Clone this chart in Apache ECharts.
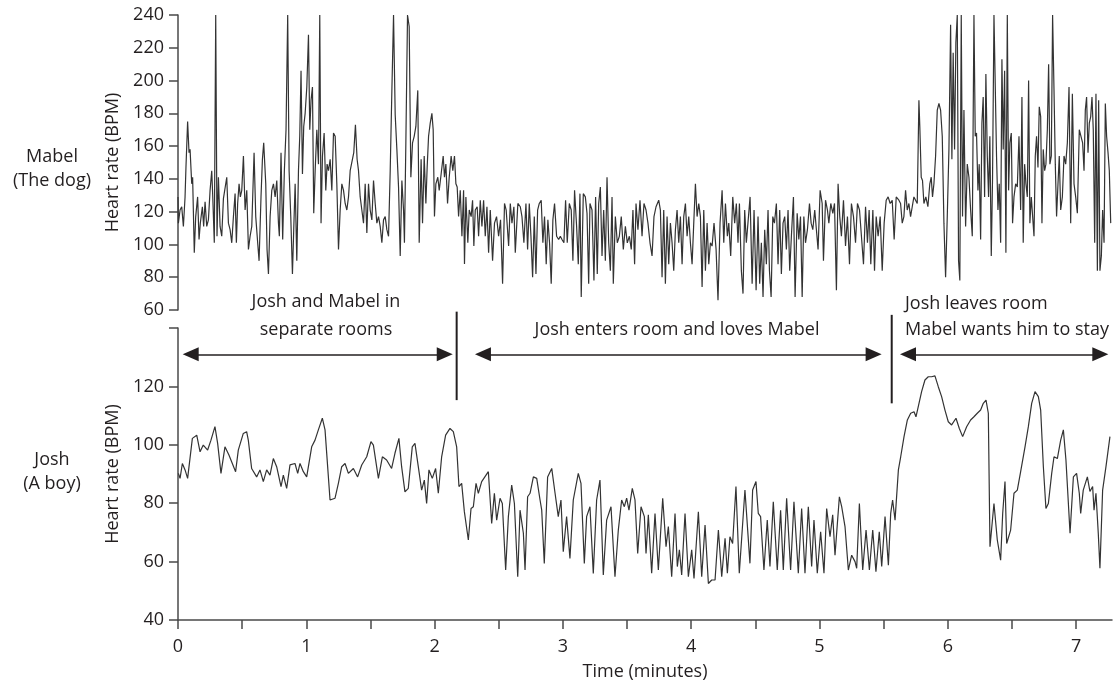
<!DOCTYPE html>
<html>
<head>
<meta charset="utf-8">
<script src="https://cdn.jsdelivr.net/npm/echarts/dist/echarts.min.js"></script>
<style>
html,body{margin:0;padding:0;background:#fff;}
#chart{width:1117px;height:682px;}
</style>
</head>
<body>
<div id="chart"></div>
<script>
// ---------- data (time in minutes, heart rate in BPM) ----------
const xTickValues = [0,0.5,1,1.5,2,2.5,3,3.5,4,4.5,5,5.5,6,6.5,7];
const xLabelValues = [0,1,2,3,4,5,6,7];
const joshLabelValues = [40,60,80,100,120];

const mabelHR = [
[0,129],[0.003,113],[0.016,121],[0.029,123],[0.042,111],[0.055,129],[0.062,147],[0.075,175],[0.086,156],[0.094,158],
[0.107,137],[0.114,141],[0.127,95],[0.138,117],[0.153,129],[0.164,103],[0.174,113],[0.190,123],[0.200,111],[0.211,126],
[0.224,111],[0.237,115],[0.250,133],[0.263,145],[0.270,131],[0.283,101],[0.294,240],[0.304,105],[0.315,141],[0.328,111],
[0.341,105],[0.354,128],[0.367,127],[0.380,141],[0.393,113],[0.406,109],[0.419,101],[0.432,117],[0.445,131],[0.455,101],
[0.465,125],[0.476,137],[0.486,129],[0.497,133],[0.510,154],[0.523,121],[0.536,133],[0.549,97],[0.562,105],[0.575,111],
[0.593,156],[0.606,117],[0.621,101],[0.632,90],[0.647,129],[0.658,152],[0.668,162],[0.684,137],[0.694,97],[0.705,82],
[0.718,117],[0.731,133],[0.744,137],[0.757,129],[0.770,139],[0.783,113],[0.790,105],[0.803,156],[0.816,103],[0.829,145],
[0.842,170],[0.855,240],[0.866,145],[0.879,117],[0.892,82],[0.902,109],[0.913,137],[0.926,90],[0.939,145],[0.949,166],
[0.959,206],[0.970,143],[0.980,172],[0.991,180],[1.004,196],[1.017,228],[1.027,170],[1.037,188],[1.048,196],[1.058,119],
[1.069,145],[1.082,170],[1.095,149],[1.105,240],[1.115,113],[1.126,154],[1.139,168],[1.152,133],[1.162,149],[1.173,145],
[1.186,152],[1.199,133],[1.212,168],[1.225,166],[1.238,137],[1.251,97],[1.264,121],[1.277,137],[1.290,133],[1.303,125],
[1.316,121],[1.329,129],[1.342,145],[1.355,145],[1.370,156],[1.383,173],[1.396,152],[1.407,145],[1.420,129],[1.433,121],
[1.446,113],[1.459,137],[1.472,107],[1.485,137],[1.498,121],[1.511,115],[1.524,139],[1.537,125],[1.550,113],[1.563,117],
[1.576,111],[1.589,101],[1.602,115],[1.615,117],[1.628,109],[1.641,105],[1.654,145],[1.667,194],[1.680,240],[1.693,179],
[1.706,158],[1.719,135],[1.732,93],[1.745,139],[1.758,121],[1.765,101],[1.776,162],[1.789,240],[1.802,233],[1.815,141],
[1.828,162],[1.841,166],[1.854,172],[1.869,194],[1.880,101],[1.895,152],[1.906,113],[1.919,154],[1.932,125],[1.942,147],
[1.953,166],[1.966,174],[1.979,180],[1.989,170],[1.999,117],[2.010,137],[2.025,141],[2.036,133],[2.051,143],[2.067,154],
[2.077,141],[2.088,149],[2.101,125],[2.114,141],[2.129,154],[2.142,145],[2.155,154],[2.166,137],[2.176,135],[2.187,117],
[2.200,133],[2.213,105],[2.226,133],[2.233,88],[2.244,129],[2.259,101],[2.270,121],[2.285,117],[2.296,127],[2.306,99],
[2.317,121],[2.332,123],[2.343,105],[2.356,127],[2.369,111],[2.382,127],[2.395,105],[2.408,123],[2.421,95],[2.434,121],
[2.452,90],[2.467,113],[2.483,117],[2.499,105],[2.514,115],[2.530,76],[2.545,125],[2.558,121],[2.577,99],[2.590,125],
[2.603,113],[2.618,123],[2.629,95],[2.649,125],[2.668,123],[2.681,117],[2.696,101],[2.712,125],[2.725,97],[2.738,125],
[2.751,105],[2.764,80],[2.777,117],[2.790,82],[2.803,121],[2.816,125],[2.831,127],[2.844,101],[2.857,117],[2.870,88],
[2.883,115],[2.896,101],[2.909,76],[2.922,115],[2.935,125],[2.951,105],[2.967,103],[2.980,105],[2.993,103],[3.008,101],
[3.021,127],[3.034,101],[3.050,125],[3.065,121],[3.078,90],[3.091,133],[3.107,111],[3.120,88],[3.133,131],[3.143,68],
[3.159,131],[3.175,129],[3.188,119],[3.201,76],[3.211,125],[3.227,121],[3.242,78],[3.255,129],[3.268,82],[3.279,125],
[3.292,135],[3.305,93],[3.318,121],[3.331,90],[3.344,141],[3.357,101],[3.370,84],[3.383,129],[3.393,76],[3.409,117],
[3.424,101],[3.440,105],[3.455,117],[3.471,97],[3.487,111],[3.502,101],[3.518,105],[3.533,97],[3.546,121],[3.559,88],
[3.570,125],[3.585,109],[3.601,127],[3.617,105],[3.632,125],[3.648,121],[3.663,113],[3.679,101],[3.695,93],[3.710,117],
[3.726,123],[3.747,127],[3.760,121],[3.773,80],[3.786,121],[3.799,76],[3.812,117],[3.825,88],[3.838,113],[3.851,101],
[3.864,84],[3.877,109],[3.890,121],[3.903,101],[3.916,117],[3.929,88],[3.942,117],[3.955,125],[3.968,105],[3.981,117],
[3.994,101],[4.007,88],[4.020,113],[4.033,137],[4.046,117],[4.059,125],[4.072,117],[4.085,74],[4.098,121],[4.111,84],
[4.124,113],[4.137,88],[4.150,101],[4.163,99],[4.178,113],[4.194,97],[4.209,66],[4.225,113],[4.241,133],[4.254,101],
[4.267,125],[4.282,105],[4.293,113],[4.308,93],[4.324,129],[4.339,113],[4.352,125],[4.365,101],[4.376,125],[4.391,84],
[4.404,70],[4.417,121],[4.430,101],[4.443,101],[4.459,129],[4.475,76],[4.490,121],[4.506,72],[4.521,117],[4.534,76],
[4.547,101],[4.560,68],[4.573,109],[4.586,88],[4.599,121],[4.610,84],[4.623,68],[4.636,117],[4.649,113],[4.664,125],
[4.677,88],[4.690,121],[4.703,82],[4.716,113],[4.729,117],[4.742,97],[4.755,121],[4.768,84],[4.781,105],[4.797,129],
[4.810,68],[4.826,119],[4.839,103],[4.852,117],[4.865,68],[4.878,117],[4.891,101],[4.906,109],[4.922,125],[4.935,113],
[4.948,109],[4.963,121],[4.976,109],[4.989,97],[5.005,133],[5.021,125],[5.031,90],[5.047,127],[5.062,121],[5.073,113],
[5.088,125],[5.104,119],[5.117,125],[5.132,72],[5.145,137],[5.158,117],[5.171,105],[5.187,127],[5.203,99],[5.218,117],
[5.234,88],[5.249,125],[5.265,117],[5.281,101],[5.296,125],[5.312,121],[5.327,105],[5.343,88],[5.359,123],[5.374,101],
[5.387,121],[5.400,88],[5.416,121],[5.429,84],[5.442,117],[5.457,105],[5.473,117],[5.489,84],[5.504,113],[5.520,127],
[5.535,129],[5.551,125],[5.567,127],[5.582,103],[5.598,129],[5.619,127],[5.632,125],[5.645,113],[5.658,117],[5.671,133],
[5.684,121],[5.697,125],[5.710,117],[5.723,123],[5.736,129],[5.751,129],[5.762,125],[5.775,188],[5.782,172],[5.793,141],
[5.803,139],[5.814,125],[5.829,129],[5.845,123],[5.860,137],[5.871,141],[5.881,129],[5.892,137],[5.905,154],[5.918,182],
[5.931,186],[5.944,182],[5.957,166],[5.970,113],[5.983,80],[5.996,117],[6.009,158],[6.022,234],[6.032,152],[6.042,217],
[6.053,158],[6.063,223],[6.074,240],[6.084,90],[6.094,78],[6.105,240],[6.115,117],[6.126,182],[6.139,111],[6.152,149],
[6.165,141],[6.178,121],[6.191,105],[6.204,240],[6.214,166],[6.224,168],[6.235,133],[6.245,149],[6.256,103],[6.266,174],
[6.276,190],[6.287,129],[6.297,204],[6.308,154],[6.318,129],[6.328,166],[6.339,93],[6.349,141],[6.360,240],[6.370,240],
[6.380,154],[6.391,121],[6.401,137],[6.412,101],[6.422,213],[6.432,158],[6.443,206],[6.453,95],[6.464,240],[6.474,133],
[6.484,162],[6.495,168],[6.505,113],[6.516,129],[6.529,137],[6.542,135],[6.555,166],[6.568,121],[6.578,190],[6.588,101],
[6.599,149],[6.609,137],[6.620,129],[6.630,200],[6.640,113],[6.651,129],[6.661,129],[6.672,105],[6.682,154],[6.692,166],
[6.703,147],[6.713,184],[6.724,178],[6.734,113],[6.744,158],[6.755,145],[6.765,149],[6.776,170],[6.786,210],[6.796,149],
[6.807,154],[6.817,240],[6.828,194],[6.838,149],[6.848,117],[6.859,137],[6.869,154],[6.880,121],[6.893,129],[6.906,154],
[6.919,149],[6.932,162],[6.945,196],[6.958,113],[6.971,192],[6.984,137],[6.997,129],[7.010,119],[7.025,170],[7.036,170],
[7.051,162],[7.062,145],[7.072,182],[7.082,190],[7.093,156],[7.103,174],[7.114,178],[7.124,190],[7.134,170],[7.145,101],
[7.155,192],[7.166,84],[7.176,188],[7.186,84],[7.197,93],[7.207,121],[7.218,101],[7.228,186],[7.238,166],[7.249,156],
[7.259,145],[7.270,113]
];

const joshHR = [
[0.003,90.2],[0.016,88.5],[0.034,93.6],[0.055,91.4],[0.075,88.5],[0.112,102.2],[0.146,103.3],[0.172,97.6],[0.197,99.9],[0.231,98.2],
[0.257,101.6],[0.288,106.2],[0.309,100.5],[0.335,90.2],[0.366,99.3],[0.397,96.5],[0.418,94.2],[0.449,90.8],[0.470,98.2],[0.509,103.9],
[0.535,104.5],[0.548,101.6],[0.574,91.9],[0.613,89.0],[0.639,91.4],[0.665,87.4],[0.691,91.4],[0.717,89.6],[0.743,95.3],[0.769,92.5],
[0.803,85.7],[0.821,89.6],[0.847,85.1],[0.873,93.1],[0.912,93.6],[0.933,90.2],[0.951,93.6],[0.977,90.8],[1.003,89.0],[1.042,99.3],
[1.068,101.6],[1.094,105.1],[1.125,109.1],[1.146,105.1],[1.185,81.1],[1.224,81.7],[1.250,86.8],[1.276,92.5],[1.302,93.6],[1.328,90.2],
[1.367,91.9],[1.400,89.0],[1.432,93.1],[1.471,95.9],[1.504,101.1],[1.523,99.9],[1.562,88.5],[1.593,95.9],[1.626,94.8],[1.665,91.9],
[1.691,97.1],[1.722,102.2],[1.743,92.5],[1.769,83.9],[1.795,85.1],[1.826,99.3],[1.847,100.5],[1.873,92.5],[1.899,84.5],[1.920,87.9],
[1.938,79.9],[1.956,91.4],[1.982,88.5],[2.008,91.9],[2.029,83.4],[2.055,95.9],[2.086,103.3],[2.120,105.6],[2.146,104.5],[2.172,99.3],
[2.190,85.7],[2.211,86.8],[2.232,77.1],[2.263,67.4],[2.284,78.2],[2.302,78.8],[2.323,86.8],[2.341,83.4],[2.367,87.4],[2.419,90.8],
[2.445,73.1],[2.466,83.4],[2.484,74.2],[2.510,81.7],[2.528,79.9],[2.554,57.1],[2.575,75.4],[2.601,86.2],[2.622,79.9],[2.648,54.8],
[2.666,77.6],[2.692,69.7],[2.705,57.1],[2.725,82.2],[2.744,83.4],[2.770,89.0],[2.796,88.5],[2.822,81.1],[2.835,77.6],[2.855,59.4],
[2.881,89.0],[2.913,91.9],[2.939,83.4],[2.964,75.4],[2.985,81.1],[3.003,63.4],[3.029,75.4],[3.055,61.1],[3.081,81.1],[3.120,90.2],
[3.141,86.8],[3.167,59.4],[3.185,75.4],[3.211,78.8],[3.237,55.9],[3.263,81.1],[3.289,87.9],[3.315,55.4],[3.341,74.2],[3.375,78.8],
[3.406,54.8],[3.432,70.8],[3.458,81.1],[3.479,78.8],[3.497,81.7],[3.515,77.6],[3.541,85.1],[3.562,81.1],[3.583,62.8],[3.609,78.8],
[3.635,75.4],[3.648,62.8],[3.666,76.0],[3.692,56.0],[3.718,76.5],[3.744,57.1],[3.778,81.7],[3.804,65.1],[3.822,72.0],[3.848,54.8],
[3.874,76.5],[3.892,58.3],[3.908,64.0],[3.926,55.4],[3.952,76.5],[3.978,54.8],[4.004,64.0],[4.022,54.2],[4.056,77.1],[4.082,54.8],
[4.108,72.5],[4.134,52.5],[4.160,53.7],[4.186,53.7],[4.212,70.8],[4.238,54.8],[4.264,68.0],[4.282,56.0],[4.302,68.5],[4.323,66.2],
[4.349,85.7],[4.375,56.0],[4.419,84.5],[4.458,59.4],[4.479,84.5],[4.505,87.4],[4.523,76.5],[4.541,75.4],[4.567,57.1],[4.593,74.2],
[4.614,58.3],[4.640,80.5],[4.671,57.1],[4.697,77.6],[4.718,57.1],[4.744,81.7],[4.775,57.1],[4.801,80.5],[4.835,56.0],[4.861,78.2],
[4.887,56.0],[4.913,78.8],[4.939,58.3],[4.957,74.2],[4.983,56.0],[5.009,70.2],[5.035,56.0],[5.056,78.2],[5.082,68.5],[5.103,76.0],
[5.121,62.2],[5.155,82.2],[5.173,78.8],[5.199,72.0],[5.225,57.1],[5.251,62.2],[5.277,60.0],[5.290,57.7],[5.311,79.9],[5.337,57.1],
[5.363,70.8],[5.389,57.1],[5.415,70.8],[5.440,56.5],[5.466,70.2],[5.485,58.3],[5.511,75.4],[5.537,58.8],[5.555,76.5],[5.570,81.1],
[5.589,74.2],[5.615,91.4],[5.633,95.9],[5.659,102.8],[5.685,108.5],[5.711,110.8],[5.737,111.3],[5.752,109.6],[5.770,113.1],[5.796,118.2],
[5.822,122.2],[5.848,123.3],[5.874,123.3],[5.900,123.6],[5.926,119.9],[5.952,116.5],[5.978,111.9],[6.004,107.9],[6.030,106.8],[6.064,109.1],
[6.090,105.6],[6.116,102.8],[6.147,106.2],[6.178,108.5],[6.204,109.6],[6.230,110.8],[6.256,111.9],[6.277,114.2],[6.298,115.3],[6.316,110.8],
[6.329,65.1],[6.360,79.9],[6.386,67.4],[6.412,60.5],[6.428,76.5],[6.446,87.4],[6.459,66.2],[6.490,70.8],[6.516,83.4],[6.542,84.5],
[6.568,90.8],[6.602,99.3],[6.628,106.2],[6.654,114.2],[6.680,118.2],[6.706,116.5],[6.724,111.9],[6.745,92.5],[6.765,78.2],[6.784,79.9],
[6.810,90.2],[6.828,95.9],[6.854,95.3],[6.880,101.6],[6.901,105.1],[6.921,94.8],[6.940,79.9],[6.953,69.7],[6.979,89.0],[7.004,90.2],
[7.025,83.4],[7.036,76.5],[7.056,84.5],[7.088,89.0],[7.108,84.0],[7.129,85.7],[7.140,77.6],[7.155,83.4],[7.173,69.7],[7.186,57.7],
[7.207,84.5],[7.233,92.5],[7.264,102.8]
];

// phase annotations (minutes / BPM on Josh's axis)
const phaseArrows = [[0.099, 2.079], [2.377, 5.422], [5.690, 7.189]];
const arrowLevel = 131;
const phaseDividers = [[2.172, 145.6, 115.3], [5.563, 144.5, 114.2]];
const phaseTexts = [
  ['Josh and Mabel in', 'separate rooms'],
  ['Josh enters room and loves Mabel'],
  ['Josh leaves room', 'Mabel wants him to stay']
];

// ---------- chart ----------
const FONT = 'Open Sans';
const INK = '#231f20';
const AXIS = '#4a4a4a';
const TRACE = '#333333';
const chart = echarts.init(document.getElementById('chart'), null, {renderer: 'canvas'});

const yAxisCommon = {
  type: 'value',
  interval: 20,
  axisLine: {show: true, lineStyle: {color: AXIS, width: 1.5}},
  axisTick: {show: true, length: 9, lineStyle: {color: AXIS, width: 1.5}},
  splitLine: {show: false},
  axisLabel: {color: INK, fontSize: 18, fontFamily: FONT, margin: 14},
  name: 'Heart rate (BPM)',
  nameLocation: 'middle',
  nameGap: 47,
  nameTextStyle: {color: INK, fontSize: 18, fontFamily: FONT}
};

chart.setOption({
  animation: false,
  backgroundColor: '#ffffff',
  grid: [
    {left: 178, top: 15, width: 934, height: 295},
    {left: 178, top: 328, width: 934, height: 292}
  ],
  xAxis: [
    {gridIndex: 0, type: 'value', min: 0, max: 7.28, show: false},
    {
      gridIndex: 1, type: 'value', min: 0, max: 7.28,
      axisLine: {show: true, onZero: false, lineStyle: {color: AXIS, width: 1.5}},
      axisTick: {show: true, length: 9, customValues: xTickValues, lineStyle: {color: AXIS, width: 1.5}},
      axisLabel: {color: INK, fontSize: 18, fontFamily: FONT, margin: 18, customValues: xLabelValues},
      splitLine: {show: false},
      name: 'Time (minutes)',
      nameLocation: 'middle',
      nameGap: 43,
      nameTextStyle: {color: INK, fontSize: 18, fontFamily: FONT}
    }
  ],
  yAxis: [
    Object.assign({}, yAxisCommon, {gridIndex: 0, min: 60, max: 240}),
    Object.assign({}, yAxisCommon, {gridIndex: 1, min: 40, max: 140,
      axisLabel: Object.assign({}, yAxisCommon.axisLabel, {customValues: joshLabelValues})})
  ],
  series: [
    {
      name: 'Mabel', type: 'line', xAxisIndex: 0, yAxisIndex: 0,
      data: mabelHR, showSymbol: false, symbol: 'none', clip: true,
      lineStyle: {color: TRACE, width: 1.2}, silent: true
    },
    {
      name: 'Josh', type: 'line', xAxisIndex: 1, yAxisIndex: 1,
      data: joshHR, showSymbol: false, symbol: 'none', clip: true,
      lineStyle: {color: TRACE, width: 1.2}, silent: true,
      markLine: {
        silent: true, animation: false,
        symbol: ['triangle', 'triangle'], symbolSize: [14, 16],
        lineStyle: {color: INK, width: 1.5, type: 'solid'},
        itemStyle: {color: INK},
        label: {show: false},
        emphasis: {disabled: true},
        data: phaseArrows.map(([a, b]) => [{coord: [a, arrowLevel]}, {coord: [b, arrowLevel]}])
      }
    }
  ]
});

// dividers and text annotations placed through the axes' own scales
const graphics = [];
phaseDividers.forEach(([t, yTop, yBot]) => {
  const p1 = chart.convertToPixel({xAxisIndex: 1, yAxisIndex: 1}, [t, yTop]);
  const p2 = chart.convertToPixel({xAxisIndex: 1, yAxisIndex: 1}, [t, yBot]);
  graphics.push({type: 'line', shape: {x1: p1[0], y1: p1[1], x2: p2[0], y2: p2[1]},
    style: {stroke: INK, lineWidth: 2}, silent: true});
});
const txt = (x, y, text, align) => ({
  type: 'text', x: x, y: y, silent: true,
  style: {text: text, fill: INK, fontSize: 18, fontFamily: FONT, align: align || 'center', verticalAlign: 'middle'}
});
// phase labels
graphics.push(txt(326, 302, phaseTexts[0][0]));
graphics.push(txt(326, 330, phaseTexts[0][1]));
graphics.push(txt(677, 330, phaseTexts[1][0]));
graphics.push(txt(905, 304, phaseTexts[2][0], 'left'));
graphics.push(txt(905, 330, phaseTexts[2][1], 'left'));
// subject labels
graphics.push(txt(52, 157, 'Mabel'));
graphics.push(txt(52, 181, '(The dog)'));
graphics.push(txt(52, 460, 'Josh'));
graphics.push(txt(52, 484, '(A boy)'));
chart.setOption({graphic: graphics});
</script>
</body>
</html>
